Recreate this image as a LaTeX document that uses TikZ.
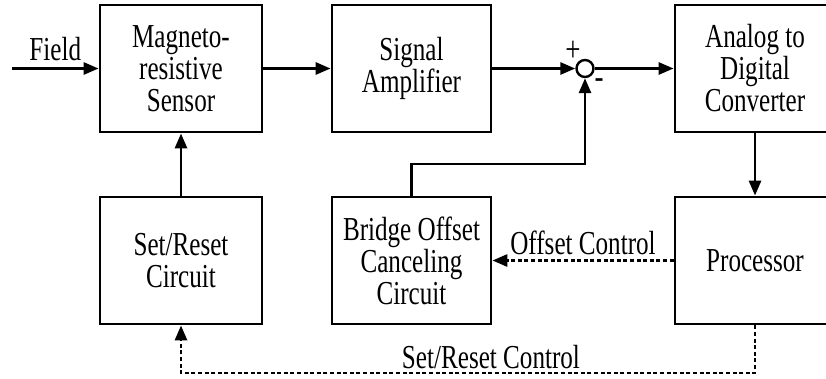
\documentclass[tikz,border=0pt]{standalone}
\usepackage{fontspec}
\setmainfont{Liberation Serif}[FakeStretch=0.75]
\usepackage{tikz}
\usetikzlibrary{arrows.meta, calc, positioning}

\begin{document}
\begin{tikzpicture}[x=1pt, y=-1pt, >={Triangle[length=15pt, width=12pt]}, line width=2.8pt,
  font=\fontsize{33.5}{32}\selectfont,
  blk/.style={draw, rectangle, minimum width=160pt, minimum height=127pt, inner sep=0pt, align=center},
  ctrl/.style={dash pattern=on 4pt off 2.6pt},
  sign/.style={font=\fontsize{36}{36}\selectfont, inner sep=0pt}]
  \useasboundingbox (0,0) rectangle (826,378);

  \node[blk, minimum width=162pt] (sensor) at (181,68.5) {Magneto-\\resistive\\Sensor};
  \node[blk, minimum width=162pt] (setreset) at (181,260.5) {Set/Reset\\Circuit};
  \node[blk, minimum width=159pt] (amp) at (411.5,68.5) {Signal\\Amplifier};
  \node[blk, minimum width=159pt] (bridge) at (411.5,260.5) {Bridge Offset\\Canceling\\Circuit};
  \node[blk] (adc) at (755,68.5) {Analog to\\Digital\\Converter};
  \node[blk] (proc) at (755,260.5) {Processor};
  \node[draw, circle, fill=white, minimum size=17pt, inner sep=0pt, line width=2.4pt] (sum) at (585,68.5) {};
  \node[sign] (plus) at (573,51) {+};
  \node[sign] (minus) at (599,84) {-};

  \coordinate (fieldin) at (12,68.5);
  \coordinate (fb) at (585,164);
  \coordinate (srbot) at (755,373);

  \draw[->] (fieldin) -- node[above, inner sep=6pt] {Field} (sensor);
  \draw[->] (sensor) -- (amp);
  \draw[->] (amp) -- (sum);
  \draw[->] (sum) -- (adc);
  \draw[->] (bridge.north) |- (fb) -- (sum.south);
  \draw[->] (setreset) -- (sensor);
  \draw[->] (adc) -- (proc);

  \draw[->, ctrl] (proc) -- node[above, inner sep=4pt] {Offset Control} (bridge);
  \draw[->, ctrl] (proc.south) -- (srbot) -| node[pos=0.23, above, inner sep=3pt] {Set/Reset Control} (setreset.south);
\end{tikzpicture}
\end{document}
